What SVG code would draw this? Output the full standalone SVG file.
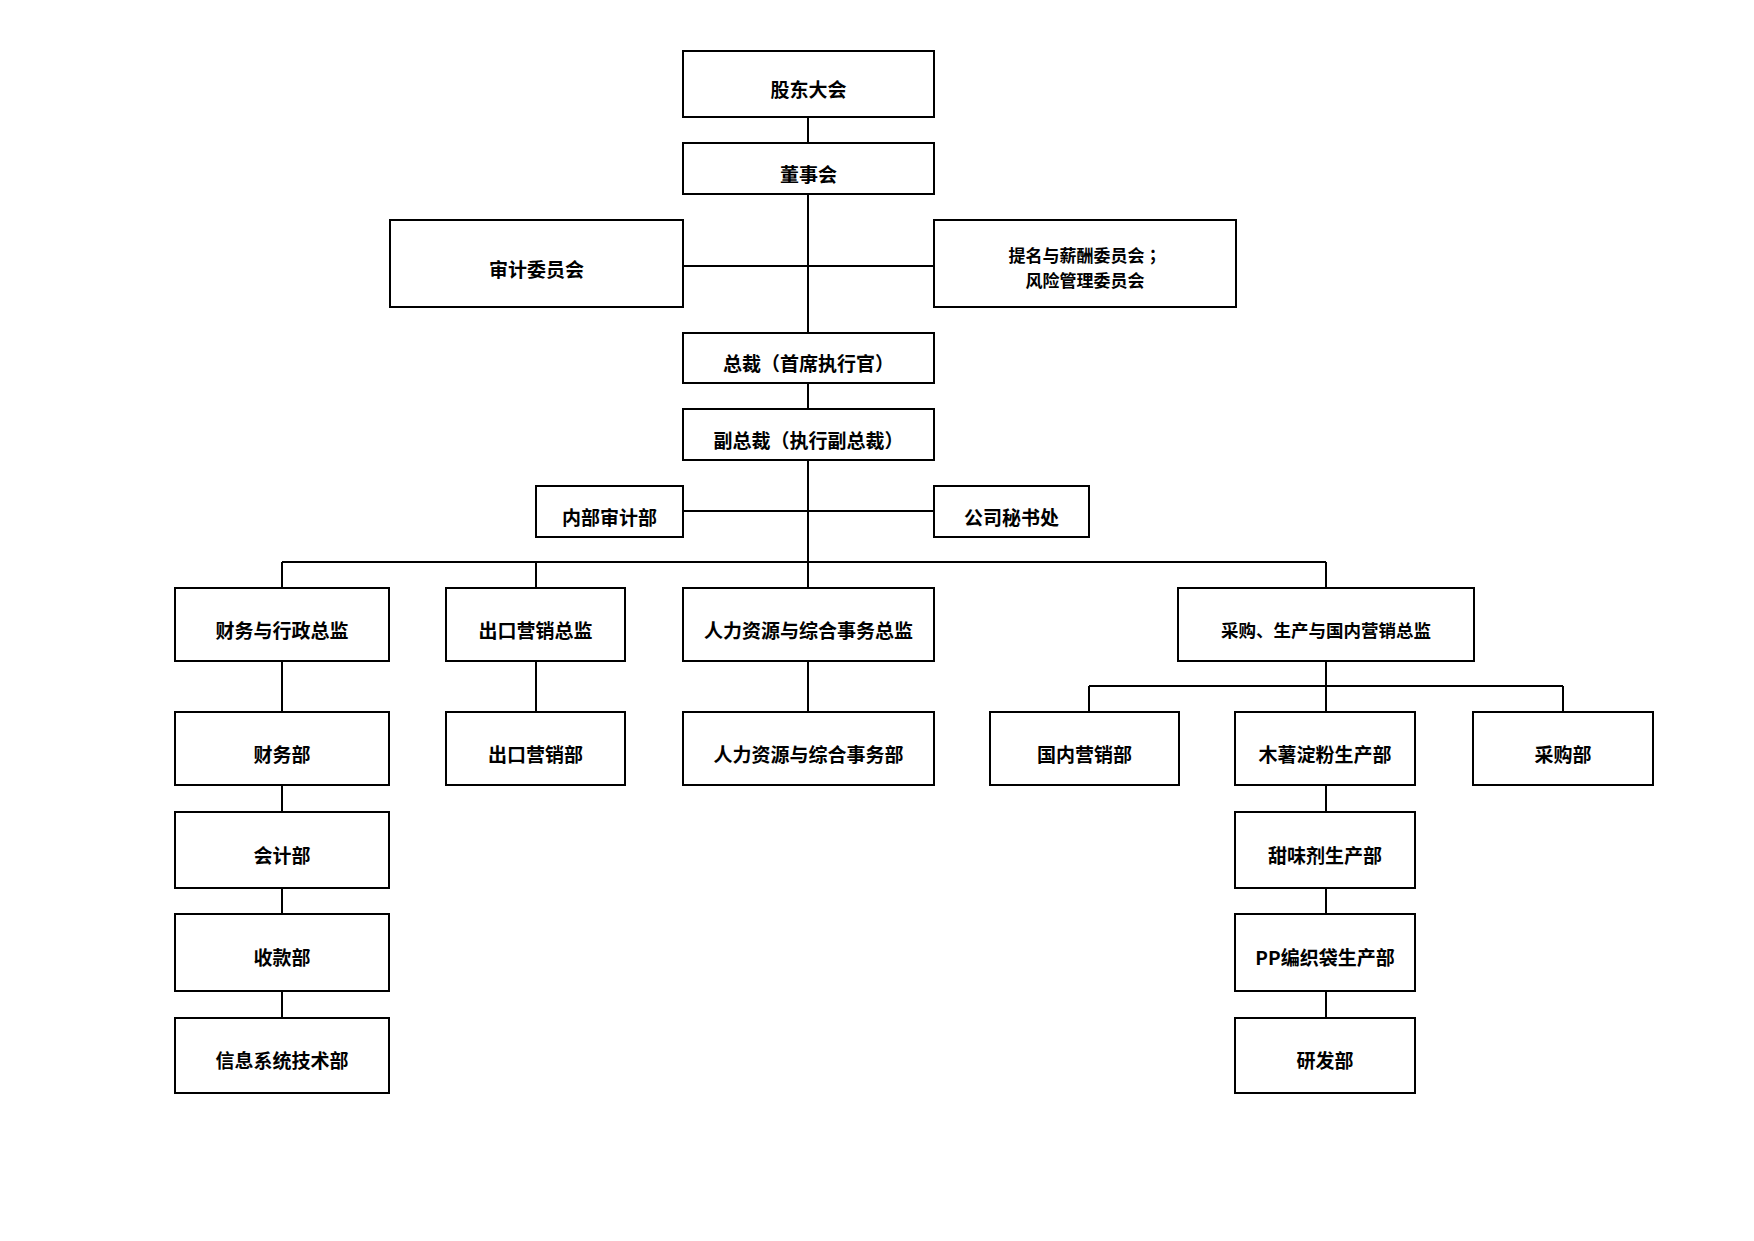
<svg xmlns="http://www.w3.org/2000/svg" width="1754" height="1241" viewBox="0 0 1754 1241">
<style>
.box{fill:#fff;stroke:#000;stroke-width:2}
.t{font-family:"Noto Sans CJK SC","Noto Sans",sans-serif;font-weight:bold;font-size:19px;text-anchor:middle;fill:#000}
.s{font-size:17px}
.m{font-size:17.5px}
.jp{font-family:"Noto Sans CJK JP",sans-serif}
.c{stroke:#000;stroke-width:2;fill:none}
</style>
<rect width="1754" height="1241" fill="#fff"/>
<g id="connectors">
<path class="c" d="M808 117V143M808 194V333M808 383V409M808 460V588M683 266H934M683 511H934"/>
<path class="c" d="M282 562H1326M282 562V588M536 562V588M1326 562V588"/>
<path class="c" d="M282 661V712M282 785V812M282 888V914M282 991V1018"/>
<path class="c" d="M536 661V712M808 661V712"/>
<path class="c" d="M1326 661V686M1089 686H1563M1089 686V712M1326 686V712M1563 686V712"/>
<path class="c" d="M1326 785V812M1326 888V914M1326 991V1018"/>
</g>
<g id="n1"><rect class="box" x="683" y="51" width="251" height="66"/><text class="t" x="808.5" y="97">股东大会</text></g>
<g id="n2"><rect class="box" x="683" y="143" width="251" height="51"/><text class="t" x="808.5" y="182">董事会</text></g>
<g id="n3"><rect class="box" x="390" y="220" width="293" height="87"/><text class="t" x="536.5" y="277">审计委员会</text></g>
<g id="n4"><rect class="box" x="934" y="220" width="302" height="87"/><text class="t s" x="1085" y="262">提名与薪酬委员会<tspan class="jp">；</tspan></text><text class="t s" x="1085" y="287">风险管理委员会</text></g>
<g id="n5"><rect class="box" x="683" y="333" width="251" height="50"/><text class="t" x="808.5" y="371">总裁（首席执行官）</text></g>
<g id="n6"><rect class="box" x="683" y="409" width="251" height="51"/><text class="t" x="808.5" y="448">副总裁（执行副总裁）</text></g>
<g id="n7"><rect class="box" x="536" y="486" width="147" height="51"/><text class="t" x="609.5" y="525">内部审计部</text></g>
<g id="n8"><rect class="box" x="934" y="486" width="155" height="51"/><text class="t" x="1011.5" y="525">公司秘书处</text></g>
<g id="n9"><rect class="box" x="175" y="588" width="214" height="73"/><text class="t" x="282" y="638">财务与行政总监</text></g>
<g id="n10"><rect class="box" x="446" y="588" width="179" height="73"/><text class="t" x="535.5" y="638">出口营销总监</text></g>
<g id="n11"><rect class="box" x="683" y="588" width="251" height="73"/><text class="t" x="808.5" y="638">人力资源与综合事务总监</text></g>
<g id="n12"><rect class="box" x="1178" y="588" width="296" height="73"/><text class="t m" x="1326" y="637">采购、生产与国内营销总监</text></g>
<g id="n13"><rect class="box" x="175" y="712" width="214" height="73"/><text class="t" x="282" y="762">财务部</text></g>
<g id="n14"><rect class="box" x="446" y="712" width="179" height="73"/><text class="t" x="535.5" y="762">出口营销部</text></g>
<g id="n15"><rect class="box" x="683" y="712" width="251" height="73"/><text class="t" x="808.5" y="762">人力资源与综合事务部</text></g>
<g id="n16"><rect class="box" x="990" y="712" width="189" height="73"/><text class="t" x="1084.5" y="762">国内营销部</text></g>
<g id="n17"><rect class="box" x="1235" y="712" width="180" height="73"/><text class="t" x="1325" y="762">木薯淀粉生产部</text></g>
<g id="n18"><rect class="box" x="1473" y="712" width="180" height="73"/><text class="t" x="1563" y="762">采购部</text></g>
<g id="n19"><rect class="box" x="175" y="812" width="214" height="76"/><text class="t" x="282" y="863">会计部</text></g>
<g id="n20"><rect class="box" x="1235" y="812" width="180" height="76"/><text class="t" x="1325" y="863">甜味剂生产部</text></g>
<g id="n21"><rect class="box" x="175" y="914" width="214" height="77"/><text class="t" x="282" y="965">收款部</text></g>
<g id="n22"><rect class="box" x="1235" y="914" width="180" height="77"/><text class="t" x="1325" y="965">PP编织袋生产部</text></g>
<g id="n23"><rect class="box" x="175" y="1018" width="214" height="75"/><text class="t" x="282" y="1068">信息系统技术部</text></g>
<g id="n24"><rect class="box" x="1235" y="1018" width="180" height="75"/><text class="t" x="1325" y="1068">研发部</text></g>
</svg>
